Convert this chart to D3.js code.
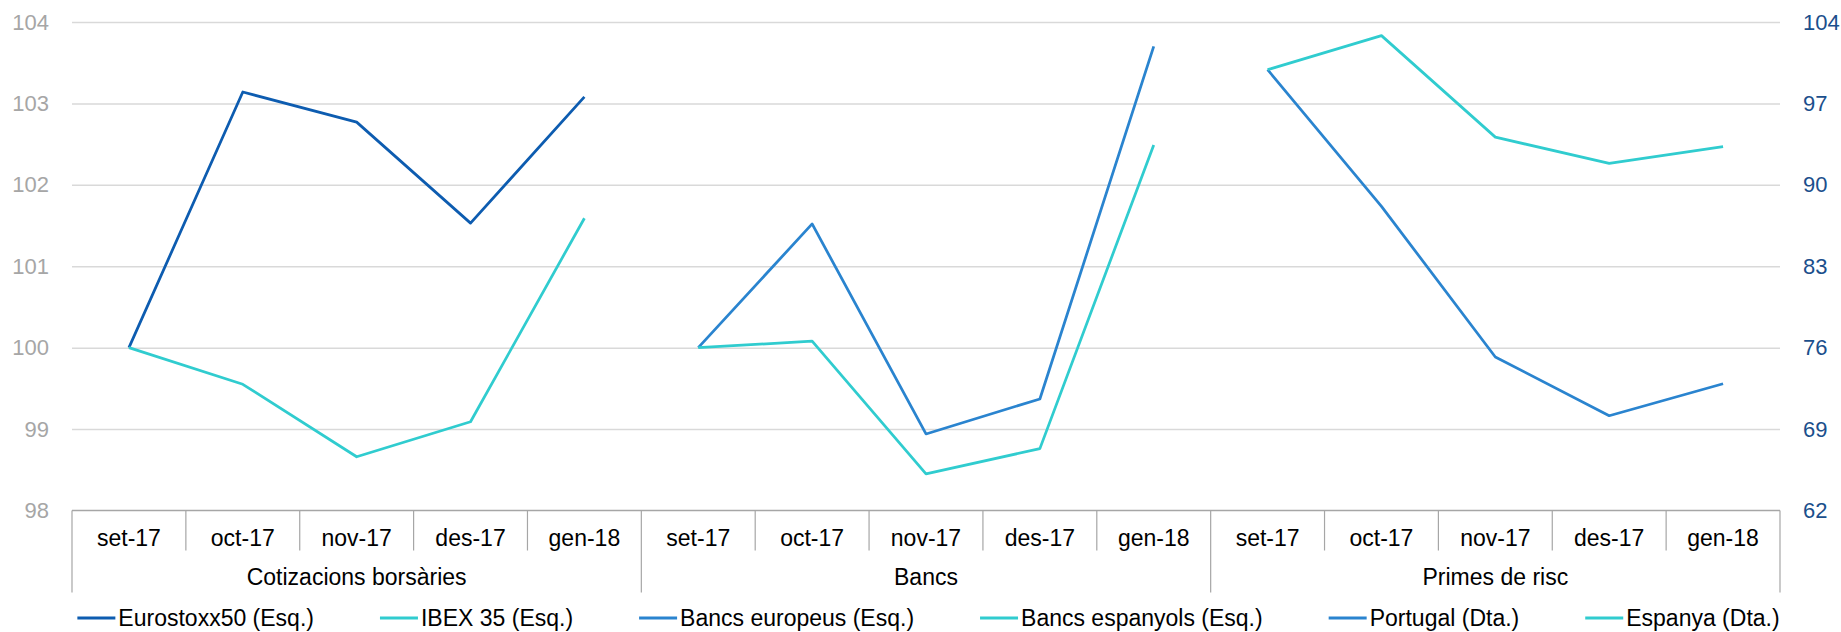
<!DOCTYPE html>
<html>
<head>
<meta charset="utf-8">
<script src="https://cdn.jsdelivr.net/npm/d3@7/dist/d3.min.js"></script>
<style>
  html, body { margin: 0; padding: 0; background: #fff; }
  svg { display: block; font-family: "Liberation Sans", Arial, sans-serif; }
</style>
</head>
<body>
<svg id="chart" width="1841" height="632"></svg>
<script>
// Months repeated inside each panel, and the three panel titles
const months = ["set-17", "oct-17", "nov-17", "des-17", "gen-18"];
const groups = ["Cotizacions borsàries", "Bancs", "Primes de risc"];

// Index values (left axis)
const eurostoxx50 = [100, 103.14, 102.77, 101.53, 103.08];
const ibex35 = [100, 99.55, 98.66, 99.09, 101.59];
const bancsEuropeus = [100, 101.52, 98.94, 99.37, 103.70];
const bancsEspanyols = [100, 100.08, 98.45, 98.76, 102.49];
// Risk premia (right axis)
const portugal = [99.9, 88.15, 75.2, 70.15, 72.9];
const espanya = [99.9, 102.83, 94.1, 91.84, 93.28];

const leftTicks = [98, 99, 100, 101, 102, 103, 104];
const rightTicks = [62, 69, 76, 83, 90, 97, 104];

const series = [
  { name: "Eurostoxx50 (Esq.)", values: eurostoxx50, group: 0, axis: "left", color: "#0d5cb0" },
  { name: "IBEX 35 (Esq.)", values: ibex35, group: 0, axis: "left", color: "#30cccf" },
  { name: "Bancs europeus (Esq.)", values: bancsEuropeus, group: 1, axis: "left", color: "#2a84cf" },
  { name: "Bancs espanyols (Esq.)", values: bancsEspanyols, group: 1, axis: "left", color: "#30cccf" },
  { name: "Portugal (Dta.)", values: portugal, group: 2, axis: "right", color: "#2a84cf" },
  { name: "Espanya (Dta.)", values: espanya, group: 2, axis: "right", color: "#30cccf" }
];

const svg = d3.select("#chart");
const plot = { left: 72, right: 1780, top: 22, bottom: 510.5 };

// One band per month of every panel
const categories = groups.flatMap((g, gi) => months.map((m, mi) => ({ key: gi + "-" + mi, month: m, gi, mi })));
const x = d3.scaleBand().domain(categories.map(c => c.key)).range([plot.left, plot.right]).padding(0);
const yL = d3.scaleLinear().domain([98, 104]).range([plot.bottom, plot.top]);
const yR = d3.scaleLinear().domain([62, 104]).range([plot.bottom, plot.top]);

// Horizontal gridlines
svg.append("g")
  .attr("transform", `translate(${plot.left},0)`)
  .call(d3.axisLeft(yL).tickValues(leftTicks.slice(1)).tickSize(-(plot.right - plot.left)).tickFormat(""))
  .call(g => g.select(".domain").remove())
  .call(g => g.selectAll("line").attr("stroke", "#d9d9d9").attr("stroke-width", 1.5));

// Left axis labels
svg.append("g")
  .attr("transform", `translate(${plot.left - 20},0)`)
  .call(d3.axisLeft(yL).tickValues(leftTicks).tickSize(0).tickFormat(d3.format("d")))
  .call(g => g.select(".domain").remove())
  .call(g => g.selectAll("text").attr("fill", "#a6a6a6").attr("font-size", 22)
    .attr("font-family", "'Liberation Sans', Arial, sans-serif"));

// Right axis labels
svg.append("g")
  .attr("transform", `translate(${plot.right + 20},0)`)
  .call(d3.axisRight(yR).tickValues(rightTicks).tickSize(0).tickFormat(d3.format("d")))
  .call(g => g.select(".domain").remove())
  .call(g => g.selectAll("text").attr("fill", "#1b4f8c").attr("font-size", 22)
    .attr("font-family", "'Liberation Sans', Arial, sans-serif"));

// Category axis: baseline, month dividers and panel dividers
const axisColor = "#a6a6a6";
const axisG = svg.append("g");
axisG.append("line")
  .attr("x1", plot.left).attr("x2", plot.right)
  .attr("y1", plot.bottom).attr("y2", plot.bottom)
  .attr("stroke", axisColor).attr("stroke-width", 1.5);

categories.forEach(c => {
  if (c.mi === 0) return;
  const xb = x(c.key);
  axisG.append("line")
    .attr("x1", xb).attr("x2", xb)
    .attr("y1", plot.bottom).attr("y2", plot.bottom + 40)
    .attr("stroke", axisColor).attr("stroke-width", 1.2);
});
const groupEdges = groups.map((g, gi) => x(gi + "-0")).concat([plot.right]);
groupEdges.forEach(xb => {
  axisG.append("line")
    .attr("x1", xb).attr("x2", xb)
    .attr("y1", plot.bottom).attr("y2", plot.bottom + 82)
    .attr("stroke", axisColor).attr("stroke-width", 1.2);
});

axisG.selectAll("text.month")
  .data(categories)
  .join("text")
  .attr("class", "month")
  .attr("x", c => x(c.key) + x.bandwidth() / 2)
  .attr("y", 545.5)
  .attr("text-anchor", "middle")
  .attr("font-size", 23)
  .attr("fill", "#000")
  .text(c => c.month);

axisG.selectAll("text.group")
  .data(groups)
  .join("text")
  .attr("class", "group")
  .attr("x", (g, gi) => (groupEdges[gi] + groupEdges[gi + 1]) / 2)
  .attr("y", 585)
  .attr("text-anchor", "middle")
  .attr("font-size", 23)
  .attr("fill", "#000")
  .text(g => g);

// Series lines, each drawn within its own panel
const lineG = svg.append("g");
series.forEach(s => {
  const yS = s.axis === "left" ? yL : yR;
  const line = d3.line()
    .x((v, i) => x(s.group + "-" + i) + x.bandwidth() / 2)
    .y(v => yS(v));
  lineG.append("path")
    .datum(s.values)
    .attr("d", line)
    .attr("fill", "none")
    .attr("stroke", s.color)
    .attr("stroke-width", 2.75)
    .attr("stroke-linejoin", "round");
});

// Legend, laid out left to right and centred under the chart
const legend = svg.append("g");
const legendY = 618;
const swatch = 38, swatchGap = 3, itemGap = 66;
const items = series.map(s => {
  const g = legend.append("g");
  g.append("line")
    .attr("x1", 0).attr("x2", swatch)
    .attr("y1", 0).attr("y2", 0)
    .attr("stroke", s.color).attr("stroke-width", 3);
  const t = g.append("text")
    .attr("x", swatch + swatchGap)
    .attr("y", 0)
    .attr("dy", "0.35em")
    .attr("font-size", 23)
    .attr("fill", "#000")
    .text(s.name);
  return { g, w: swatch + swatchGap + t.node().getComputedTextLength() };
});
const total = d3.sum(items, d => d.w) + itemGap * (items.length - 1);
let cx = 928.5 - total / 2;
items.forEach(it => {
  it.g.attr("transform", `translate(${cx},${legendY})`);
  cx += it.w + itemGap;
});
</script>
</body>
</html>
